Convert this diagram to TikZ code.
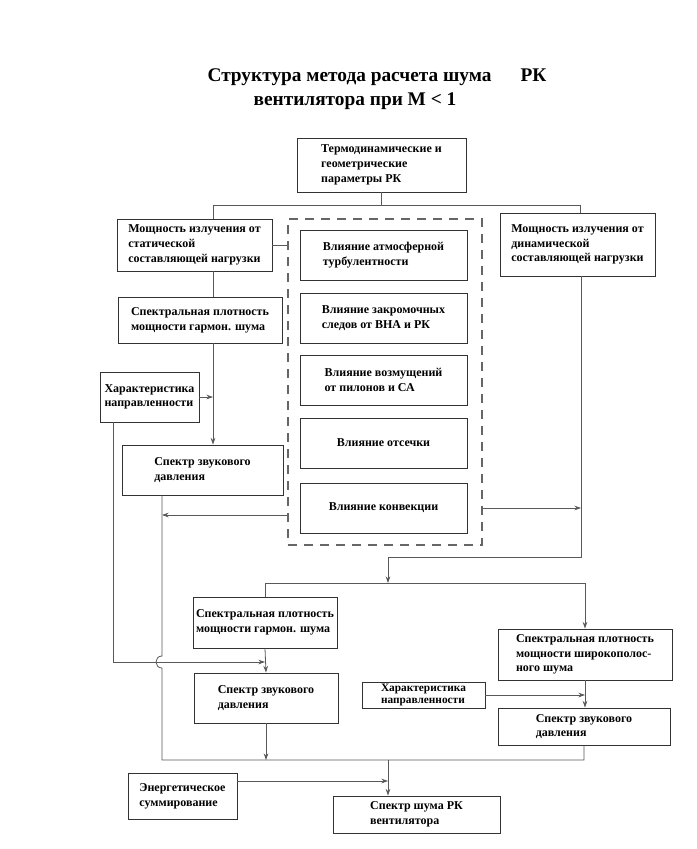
\documentclass[tikz,border=0pt]{standalone}
\usepackage{fontspec}
\setmainfont{Liberation Serif}
\usetikzlibrary{arrows.meta,calc}

\begin{document}
\begin{tikzpicture}[x=0.75pt, y=-0.75pt,
    blok/.style={draw=black!80, line width=0.7pt, align=left, inner sep=2pt,
        font=\fontsize{9}{11}\selectfont\bfseries},
    gruppa/.style={draw=black!60, line width=0.9pt, dash pattern=on 7pt off 5pt},
    lin/.style={draw=black!65, line width=0.6pt},
    strl/.style={lin, -{Stealth[length=5pt, width=3.5pt]}},
    titul/.style={font=\fontsize{14.5}{17}\selectfont\bfseries}]

\useasboundingbox (0,0) rectangle (696,849);

% title
\node[titul] (tit1) at (377,77) {Структура метода расчета шума\hspace{1.5em}РК};
\node[titul] (tit2) at (355,101) {вентилятора при M < 1};

% upper part
\node[blok, minimum width=126.75pt, minimum height=40.5pt] (termo) at (381.5,165) {Термодинамические и\\геометрические\\параметры РК};
\node[blok, minimum width=116.25pt, minimum height=39pt] (stat) at (194.5,245) {Мощность излучения от\\статической\\составляющей нагрузки};
\node[blok, minimum width=116.25pt, minimum height=47.25pt] (dyn) at (577.5,244.5) {Мощность излучения от\\динамической\\составляющей нагрузки};

\node[gruppa, minimum width=145.5pt, minimum height=244.5pt] (vliyanie) at (385,382) {};
\node[blok, minimum width=125.25pt, minimum height=37.5pt] (atm) at (383.5,255) {Влияние атмосферной\\турбулентности};
\node[blok, minimum width=125.25pt, minimum height=37.5pt] (sled) at (383.5,318) {Влияние закромочных\\следов от ВНА и РК};
\node[blok, minimum width=125.25pt, minimum height=37.5pt] (pilon) at (383.5,380) {Влияние возмущений\\от пилонов и СА};
\node[blok, minimum width=125.25pt, minimum height=37.5pt] (otsech) at (383.5,443) {Влияние отсечки};
\node[blok, minimum width=125.25pt, minimum height=37.5pt] (konv) at (383.5,508) {Влияние конвекции};

% left column
\node[blok, minimum width=123pt, minimum height=34.5pt] (spd1) at (200,320) {Спектральная плотность\\мощности гармон. шума};
\node[blok, minimum width=74.25pt, minimum height=37.5pt] (dir1) at (149.5,397) {Характеристика\\направленности};
\node[blok, minimum width=120.75pt, minimum height=37.5pt] (spl1) at (202.5,470) {Спектр звукового\\давления};

% lower part
\node[blok, minimum width=108pt, minimum height=38.25pt] (spd2) at (265,622.5) {Спектральная плотность\\мощности гармон. шума};
\node[blok, minimum width=108pt, minimum height=37.5pt] (spl2) at (266,698) {Спектр звукового\\давления};
\node[blok, minimum width=130.5pt, minimum height=38.25pt] (spd3) at (585,654.5) {Спектральная плотность\\мощности широкополос-\\ного шума};
\node[blok, minimum width=92.25pt, minimum height=19.5pt, inner ysep=0.8pt,
    font=\fontsize{8.5}{9.5}\selectfont\bfseries] (dir2) at (423.5,695) {Характеристика\\направленности};
\node[blok, minimum width=129pt, minimum height=27.75pt] (spl3) at (584,726.5) {Спектр звукового\\давления};
\node[blok, minimum width=81.75pt, minimum height=34.5pt] (summa) at (182.5,796) {Энергетическое\\суммирование};
\node[blok, minimum width=125.25pt, minimum height=27.75pt] (itog) at (416.5,814.5) {Спектр шума РК\\вентилятора};

% branch points
\coordinate (razvL) at (213,205);
\coordinate (razvR) at (580,205);
\coordinate (levL) at (113,662);
\coordinate (spusk) at (162,760);
\coordinate (konvL) at (162,515);
\coordinate (povorot) at (581,557);
\coordinate (sredina) at (388,583);
\coordinate (sbor) at (388,760);

% connectors, upper part
\draw[lin] (termo.south) -- (termo.south |- razvL);
\draw[lin] (razvL) -- (razvR);
\draw[lin] (razvL) -- (razvL |- stat.north);
\draw[lin] (razvR) -- (razvR |- dyn.north);
\draw[lin] (stat.east) -- (stat.east -| vliyanie.west);

\draw[lin] (stat.south -| razvL) -- (razvL |- spd1.north);
\draw[strl] (spd1.south -| razvL) -- (razvL |- spl1.north);
\draw[strl] (dir1.east) -- (dir1.east -| razvL);

\draw[strl] (vliyanie.west |- konvL) -- (konvL);
\draw[strl] (vliyanie.east |- konv.east) -- (povorot |- konv.east);
\draw[lin] (dyn.south -| povorot) -- (povorot) -- (povorot -| sredina);
\draw[strl] (povorot -| sredina) -- (sredina);

% connectors, lower part
\draw[lin] (spd2.north |- sredina) -- (spd3.north |- sredina);
\draw[lin] (spd2.north |- sredina) -- (spd2.north);
\draw[strl] (spd3.north |- sredina) -- (spd3.north);

\draw[strl] (dir1.south -| levL) -- (levL) -- (spd2.south |- levL);
\draw[strl] (spd2.south) -- (spl2.north);
\draw[strl] (spd3.south) -- (spd3.south |- spl3.north);
\draw[strl] (dir2.east) -- (dir2.east -| spd3.south);

\draw[lin] (spl1.south -| spusk) -- ($(spusk |- levL)+(0,-6)$)
    .. controls +(-8,0) and +(-8,0) .. ($(spusk |- levL)+(0,6)$)
    -- (spusk) -- (spl3.south |- spusk) -- (spl3.south);
\draw[strl] (spl2.south) -- (spl2.south |- spusk);
\draw[strl] (sbor) -- (sbor |- itog.north);
\draw[strl] ([yshift=11.25pt]summa.east) -- ([yshift=11.25pt]summa.east -| sbor);

\end{tikzpicture}
\end{document}
